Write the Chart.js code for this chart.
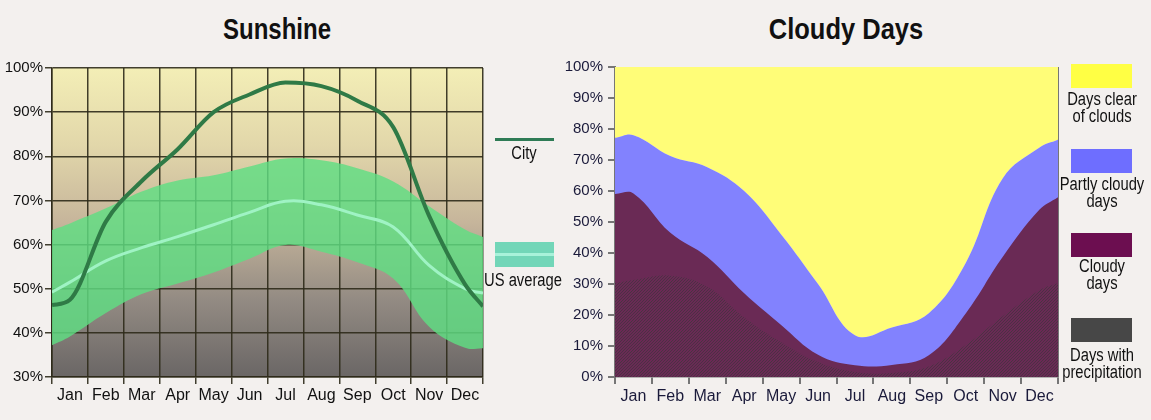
<!DOCTYPE html>
<html>
<head>
<meta charset="utf-8">
<script src="https://cdn.jsdelivr.net/npm/chart.js@4.4.1/dist/chart.umd.min.js"></script>
<style>
  body { margin: 0; background: #f3f0ee; width: 1151px; height: 420px; overflow: hidden; position: relative;
         font-family: 'Liberation Sans', Arial, sans-serif; color: #111; }
  canvas { position: absolute; top: 0; }
  #sun { left: 0; }
  #cloud { left: 560px; }
  .title { position: absolute; top: 13px; width: 300px; text-align: center; font-weight: bold; font-size: 30px; line-height: 32px;
           white-space: nowrap; transform: scaleX(0.8); }
  .lg { position: absolute; width: 120px; text-align: center; font-size: 18px; line-height: 17px; white-space: nowrap;
        transform: scaleX(0.82); }
  .box { position: absolute; }
</style>
</head>
<body>
<div class="title" style="left:127px">Sunshine</div>
<div class="title" style="left:696px;transform:scaleX(0.85)">Cloudy Days</div>

<canvas id="sun" width="560" height="420"></canvas>
<canvas id="cloud" width="591" height="420"></canvas>

<!-- Sunshine legend -->
<div class="box" style="left:495px;top:138px;width:59px;height:3px;background:#2e7b55"></div>
<div class="lg" style="left:464px;top:145px">City</div>
<div class="box" style="left:495px;top:242px;width:59px;height:25px;background:#72d6b8"></div>
<div class="box" style="left:495px;top:253px;width:59px;height:3px;background:#a8f2da"></div>
<div class="lg" style="left:463px;top:272px">US average</div>

<!-- Cloudy days legend -->
<div class="box" style="left:1071px;top:64px;width:61px;height:24px;background:#ffff44"></div>
<div class="lg" style="left:1042px;top:91px">Days clear<br>of clouds</div>
<div class="box" style="left:1071px;top:149px;width:61px;height:24px;background:#6e6eff"></div>
<div class="lg" style="left:1042px;top:176px">Partly cloudy<br>days</div>
<div class="box" style="left:1071px;top:233px;width:61px;height:24px;background:#6c0e50"></div>
<div class="lg" style="left:1042px;top:258px">Cloudy<br>days</div>
<div class="box" style="left:1071px;top:318px;width:61px;height:24px;background:#474747"></div>
<div class="lg" style="left:1042px;top:347px">Days with<br>precipitation</div>

<script>
const months = ['Jan', 'Feb', 'Mar', 'Apr', 'May', 'Jun', 'Jul', 'Aug', 'Sep', 'Oct', 'Nov', 'Dec'];

// Sunshine (% of possible), one value per month, plus the values at the left / right edge
const sunCity = [47.5, 65.2, 74.4, 81.6, 90, 94, 96.7, 95.9, 92.6, 86.6, 66.5, 51];
const sunCityEnds = [46.3, 46];
const sunUsAvg = [51.5, 56.3, 59.3, 61.8, 64.5, 67.3, 69.8, 69, 66.7, 64, 55.3, 50];
const sunUsAvgEnds = [49.2, 49];
const sunUsHigh = [64.8, 68.2, 72, 74.5, 75.7, 77.7, 79.5, 79.1, 77.3, 74.3, 68.7, 63.4];
const sunUsHighEnds = [63.3, 61.7];
const sunUsLow = [39.2, 44.5, 48.8, 51.2, 53.7, 56.8, 59.9, 58.4, 56, 52.3, 41.4, 36.6];
const sunUsLowEnds = [37.2, 36.5];

// Cloudy days (% of days), top edge of each band
const precip = [31.3, 32.7, 29.2, 19.2, 11.2, 4.8, 1.6, 1.3, 3.4, 10.3, 19.6, 28];
const precipEnds = [30.3, 30.3];
const cloudy = [59.2, 46.5, 38.7, 27, 16.8, 7.2, 3.8, 3.9, 7, 20.5, 38.7, 54];
const cloudyEnds = [59, 58];
const partly = [78, 71.3, 67.7, 60, 46, 30, 13.5, 16, 20.6, 36.8, 64, 74];
const partlyEnds = [77.1, 76.5];

const FONT = "'Liberation Sans', Arial, sans-serif";
const GRID = 'rgba(45,42,25,0.9)';
const AXIS = '#767676';

function curve(vals, ends) {
    const pts = [{ x: 0, y: ends[0] }];
    vals.forEach((v, i) => pts.push({ x: i + 0.5, y: v }));
    pts.push({ x: 12, y: ends[1] });
    return pts;
}

// month ticks: boundaries on whole numbers, labels at the middle of each month
function monthTicks(scale) {
    scale.ticks = [];
    for (let i = 0; i <= 24; i++) scale.ticks.push({ value: i / 2 });
}
const isEdge = v => Number.isInteger(v);

// Background gradient for the sunshine plot
const sunBackground = {
    id: 'sunBackground',
    beforeDraw(chart) {
        const { ctx, chartArea: a } = chart;
        const g = ctx.createLinearGradient(0, a.top, 0, a.bottom);
        g.addColorStop(0, '#f3eeb6');
        g.addColorStop(0.25, '#e2d7aa');
        g.addColorStop(0.5, '#c6b59b');
        g.addColorStop(0.75, '#938b83');
        g.addColorStop(1, '#6a6665');
        ctx.save();
        ctx.fillStyle = g;
        ctx.fillRect(a.left, a.top, a.right - a.left, a.bottom - a.top);
        ctx.restore();
    }
};

new Chart(document.getElementById('sun'), {
    type: 'line',
    data: {
        datasets: [
            { label: 'City', data: curve(sunCity, sunCityEnds), borderColor: '#2f7a46', borderWidth: 4, fill: false, cubicInterpolationMode: 'monotone' },
            { label: 'US average', data: curve(sunUsAvg, sunUsAvgEnds), borderColor: '#9ff3c4', borderWidth: 3, fill: false },
            { label: 'US high', data: curve(sunUsHigh, sunUsHighEnds), borderWidth: 0, fill: '+1', backgroundColor: 'rgba(95,222,130,0.82)' },
            { label: 'US low', data: curve(sunUsLow, sunUsLowEnds), borderWidth: 0, fill: false }
        ]
    },
    options: {
        responsive: false,
        animation: false,
        elements: { point: { radius: 0 }, line: { tension: 0.4 } },
        layout: { padding: { top: 68, right: 77, left: 0, bottom: 0 } },
        plugins: { legend: { display: false }, tooltip: { enabled: false } },
        scales: {
            x: {
                type: 'linear', min: 0, max: 12,
                afterBuildTicks: monthTicks,
                ticks: {
                    autoSkip: false, maxRotation: 0, padding: 2, color: '#111',
                    font: { family: FONT, size: 16 },
                    callback: v => isEdge(v) ? '' : months[Math.floor(v)]
                },
                grid: {
                    color: c => isEdge(c.tick.value) ? GRID : 'transparent',
                    tickColor: c => isEdge(c.tick.value) ? GRID : 'transparent',
                    lineWidth: 1.5, tickLength: 7
                },
                border: { color: GRID, width: 1.5 },
                afterFit: s => { s.height = 43; }
            },
            y: {
                min: 30, max: 100,
                ticks: { stepSize: 10, padding: 2, color: '#111', font: { family: FONT, size: 15 }, callback: v => v + '%' },
                grid: { color: GRID, lineWidth: 1.5, tickLength: 7 },
                border: { color: GRID, width: 1.5 },
                afterFit: s => { s.width = 52; }
            }
        }
    },
    plugins: [sunBackground]
});

// diagonal hatch for the precipitation area
function hatchPattern() {
    const c = document.createElement('canvas');
    c.width = 3; c.height = 3;
    const x = c.getContext('2d');
    x.strokeStyle = 'rgba(55,55,55,0.6)';
    x.lineWidth = 1;
    x.beginPath();
    x.moveTo(0, 3); x.lineTo(3, 0);
    x.moveTo(-1, 1); x.lineTo(1, -1);
    x.moveTo(2, 4); x.lineTo(4, 2);
    x.stroke();
    return x.createPattern(c, 'repeat');
}

new Chart(document.getElementById('cloud'), {
    type: 'line',
    data: {
        datasets: [
            { label: 'Days with precipitation', data: curve(precip, precipEnds), fill: 'origin', backgroundColor: hatchPattern() },
            { label: 'Cloudy days', data: curve(cloudy, cloudyEnds), fill: 'origin', backgroundColor: '#6a2a55' },
            { label: 'Partly cloudy days', data: curve(partly, partlyEnds), fill: 'origin', backgroundColor: '#8282fe' },
            { label: 'Days clear of clouds', data: curve(partly, partlyEnds), fill: 'end', backgroundColor: '#fffd78' }
        ]
    },
    options: {
        responsive: false,
        animation: false,
        elements: { point: { radius: 0 }, line: { tension: 0.4, borderWidth: 0 } },
        layout: { padding: { top: 67, right: 93, left: 0, bottom: 0 } },
        plugins: { legend: { display: false }, tooltip: { enabled: false } },
        scales: {
            x: {
                type: 'linear', min: 0, max: 12,
                afterBuildTicks: monthTicks,
                ticks: {
                    autoSkip: false, maxRotation: 0, padding: 3, color: '#1a1a3a',
                    font: { family: FONT, size: 16 },
                    callback: v => isEdge(v) ? '' : months[Math.floor(v)]
                },
                grid: {
                    color: c => c.tick.value === 12 ? AXIS : 'transparent',
                    tickColor: c => isEdge(c.tick.value) ? AXIS : 'transparent',
                    lineWidth: 2, tickLength: 7
                },
                border: { color: AXIS, width: 1.5 },
                afterFit: s => { s.height = 43; }
            },
            y: {
                min: 0, max: 100,
                ticks: { stepSize: 10, padding: 5, color: '#1a1a3a', font: { family: FONT, size: 15 }, callback: v => v + '%' },
                grid: { drawOnChartArea: false, color: AXIS, lineWidth: 2, tickLength: 7 },
                border: { color: AXIS, width: 2 },
                afterFit: s => { s.width = 55; }
            }
        }
    }
});
</script>
</body>
</html>
